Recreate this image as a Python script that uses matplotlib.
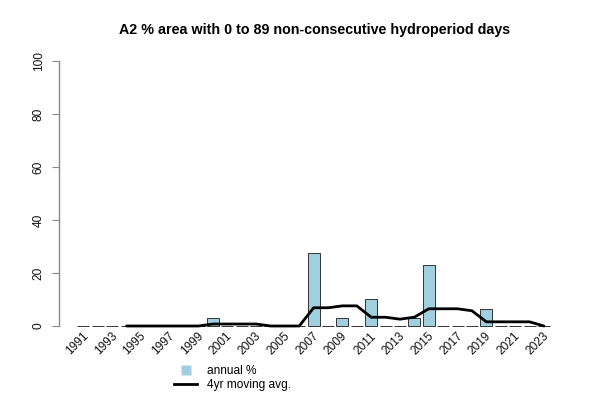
import numpy as np
import matplotlib
matplotlib.use("Agg")
import matplotlib.pyplot as plt
from matplotlib.lines import Line2D

plt.rcParams['font.family'] = ['Liberation Sans', 'DejaVu Sans']

years = list(range(1991, 2024))
annual_pct = [0, 0, 0, 0, 0, 0, 0, 0, 0, 3.0,
              0, 0, 0, 0, 0, 0, 27.5, 0, 2.9, 0,
              10.3, 0, 0, 3.0, 23.0, 0, 0, 0, 6.3, 0,
              0, 0, 0]
moving_avg = [np.nan, np.nan, np.nan, 0, 0, 0, 0, 0, 0, 0.75,
              0.75, 0.75, 0.75, 0, 0, 0, 6.88, 6.88, 7.6, 7.6,
              3.3, 3.3, 2.58, 3.33, 6.5, 6.5, 6.5, 5.75, 1.58, 1.58,
              1.58, 1.58, 0]
tick_years = years[::2]
title = "A2 % area with 0 to 89 non-consecutive hydroperiod days"

bar_color = '#A0CFE0'

fig = plt.figure(figsize=(6, 4), dpi=100)
ax = fig.add_axes([0.0975, 0.1585, 0.8505, 0.7155])

n = len(years)
centers = 0.7 + 1.2 * np.arange(n)
ax.bar(centers, annual_pct, width=1.0, color=bar_color, edgecolor='#333333',
       linewidth=0.7, zorder=2)
ax.plot(centers, moving_avg, color='black', linewidth=2.0, zorder=3,
        solid_joinstyle='round', solid_capstyle='round')

ax.set_xlim(-1.376, 41.176)
ax.set_ylim(-4, 104)

for s in ['top', 'right', 'bottom']:
    ax.spines[s].set_visible(False)
ax.spines['left'].set_bounds(0, 100)
ax.spines['left'].set_color('#888888')
ax.spines['left'].set_linewidth(1.0)
ax.set_yticks([0, 20, 40, 60, 80, 100])
ax.set_yticklabels(['0', '20', '40', '60', '80', '100'], rotation=90,
                   va='center', fontsize=8.6)
ax.tick_params(axis='y', length=5, color='#888888', pad=5, labelcolor='#111111')
ax.set_xticks([])

for yr in tick_years:
    i = years.index(yr)
    ax.text(centers[i] + 0.25, -3.2, str(yr), rotation=45, ha='right',
            va='center', rotation_mode='anchor', fontsize=8.6, clip_on=False,
            color='#111111')

fig.text(0.525, 0.925, title, ha='center', va='center', fontsize=10.3,
         fontweight='bold')

handles = [Line2D([0], [0], linestyle='none', marker='s', markersize=7.5,
                  markerfacecolor=bar_color, markeredgecolor='none'),
           Line2D([0], [0], color='black', linewidth=2.0)]
fig.legend(handles, ['annual %', '4yr moving avg.'], loc='upper left',
           bbox_to_anchor=(0.29, 0.0875), frameon=False, fontsize=8.6,
           handlelength=1.93, handleheight=1.0, labelspacing=0.12,
           handletextpad=0.85, borderaxespad=0, borderpad=0)

fig.savefig('out.png', dpi=100)
